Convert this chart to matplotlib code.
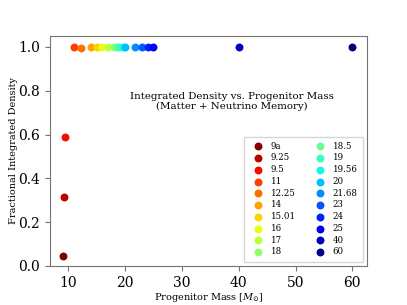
import numpy as np
import matplotlib.pyplot as plt
from matplotlib import cm

plt.rcParams['font.family'] = 'DejaVu Serif'
plt.rcParams['mathtext.fontset'] = 'dejavuserif'

# Progenitor models
labels = ['9a', '9.25', '9.5', '11', '12.25', '14', '15.01', '16', '17', '18',
          '18.5', '19', '19.56', '20', '21.68', '23', '24', '25', '40', '60']
masses = [9, 9.25, 9.5, 11, 12.25, 14, 15.01, 16, 17, 18,
          18.5, 19, 19.56, 20, 21.68, 23, 24, 25, 40, 60]
frac_density = [0.045, 0.315, 0.59, 1.0, 0.995, 1.0, 1.0, 1.0, 1.0, 1.0,
                1.0, 1.0, 1.0, 1.0, 1.0, 1.0, 1.0, 1.0, 1.0, 1.0]

colors = cm.jet_r(np.linspace(0, 1, len(labels)))

fig = plt.figure(figsize=(4.07, 3.05), dpi=100)
ax = fig.add_axes([0.123, 0.128, 0.779, 0.754])

for m, d, c, lab in zip(masses, frac_density, colors, labels):
    ax.scatter(m, d, color=c, s=22, label=lab, zorder=3)

ax.set_xlim(6.8, 62.6)
ax.set_ylim(0, 1.05)
ax.set_xticks([10, 20, 30, 40, 50, 60])
ax.set_yticks([0.0, 0.2, 0.4, 0.6, 0.8, 1.0])
ax.tick_params(labelsize=10, direction='out', length=3.5, color='0.45')
for s in ax.spines.values():
    s.set_color('0.45')

ax.set_xlabel(r'Progenitor Mass [$M_{\odot}$]', fontsize=7, labelpad=1)
ax.set_ylabel('Fractional Integrated Density', fontsize=7, labelpad=0)

ax.text(0.574, 0.715, 'Integrated Density vs. Progenitor Mass\n(Matter + Neutrino Memory)',
        transform=ax.transAxes, ha='center', va='center', fontsize=7.4, linespacing=1.0)

ax.legend(ncol=2, loc='lower right', fontsize=6.2, frameon=True, fancybox=False,
          edgecolor='0.8', handletextpad=0.5, columnspacing=1.8, labelspacing=0.32,
          borderpad=0.6)

fig.savefig('out.png', dpi=100)
